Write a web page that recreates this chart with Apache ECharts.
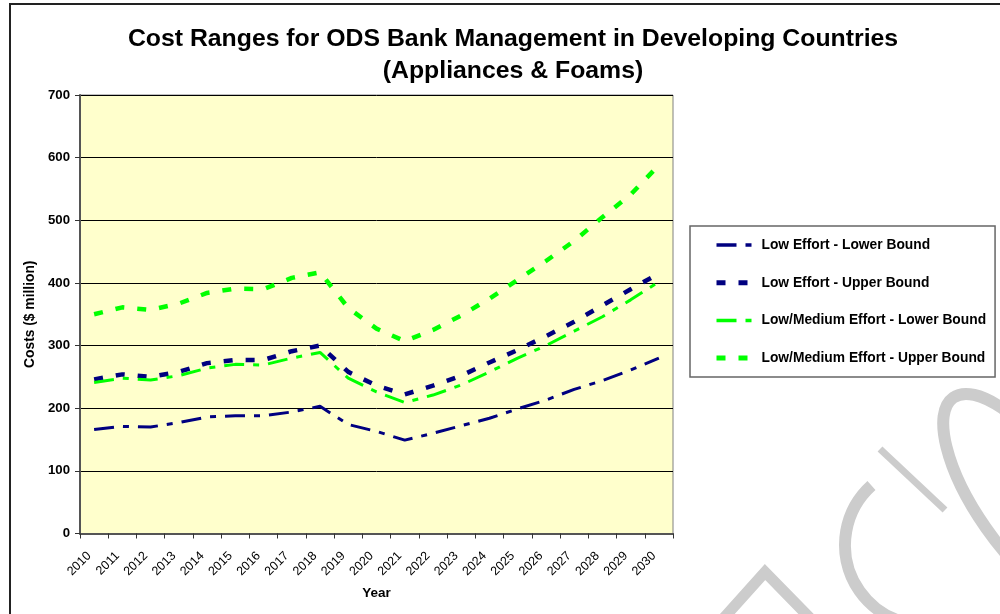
<!DOCTYPE html>
<html>
<head>
<meta charset="utf-8">
<script src="https://cdn.jsdelivr.net/npm/echarts@6/dist/echarts.min.js"></script>
<style>
html,body{margin:0;padding:0;background:#fff;}
#chart{width:1000px;height:614px;}
</style>
</head>
<body>
<div id="chart"></div>
<script>
const years = ['2010','2011','2012','2013','2014','2015','2016','2017','2018','2019','2020','2021','2022','2023','2024','2025','2026','2027','2028','2029','2030'];
const lowLower = [166,171,170,177,186,188,188,194,203,174,163,149,160,172,184,199,213,230,244,261,280];
const lowUpper = [246,254,250,258,272,277,277,291,300,258,236,222,236,252,273,293,315,338,364,390,415];
const medLower = [241,248,245,252,264,270,269,280,289,248,226,209,221,237,258,280,300,323,346,373,402];
const medUpper = [350,361,357,367,384,391,390,408,417,360,327,307,325,348,375,405,435,467,505,541,588];
const seriesNames = ['Low Effort - Lower Bound','Low Effort - Upper Bound','Low/Medium Effort - Lower Bound','Low/Medium Effort - Upper Bound'];
const yTicks = [0,100,200,300,400,500,600,700];

const navy = '#000080', green = '#00FF00';
const dashDot = [20,9,6,9], dashed = [9,13];
const lowerW = 3, upperW = 4.5;
function mk(name, data, color, dash, width){
  return {name:name, type:'line', data:data, symbol:'none', smooth:false,
    lineStyle:{color:color, width:width, type:dash, cap:'butt'}, itemStyle:{color:color}};
}
const chart = echarts.init(document.getElementById('chart'));
const ff = '"Liberation Sans", Arial, sans-serif';
const wm = '#cccccc';
chart.setOption({
  animation:false,
  textStyle:{fontFamily:ff},
  title:{text:'Cost Ranges for ODS Bank Management in Developing Countries\n(Appliances & Foams)',
    left:508, top:18, textAlign:'center',
    textStyle:{fontSize:24.8, fontWeight:'bold', color:'#000', lineHeight:32, fontFamily:ff}},
  legend:{orient:'vertical', left:690, top:226, padding:[12,9,12,24], itemGap:23.7,
    itemWidth:36, itemHeight:14, borderColor:'#666', borderWidth:1.5, backgroundColor:'#fff',
    itemStyle:{opacity:0},
    textStyle:{fontSize:13.8, lineHeight:14, fontWeight:'bold', color:'#000', fontFamily:ff, padding:[0,0,0,4]},
    data:seriesNames.map((n,i)=>({name:n, lineStyle:{width: i%2 ? 5 : 3.5}}))},
  grid:{left:80, right:327, top:95, bottom:80.5, show:true, backgroundColor:'#FFFFCC', borderColor:'#808080', borderWidth:1},
  xAxis:{type:'category', data:years, boundaryGap:true,
    name:'Year', nameLocation:'middle', nameGap:53,
    nameTextStyle:{fontSize:13.5, fontWeight:'bold', color:'#000', fontFamily:ff},
    axisLine:{lineStyle:{color:'#555', width:2}},
    axisTick:{show:true, alignWithLabel:false, length:5, lineStyle:{color:'#333'}},
    axisLabel:{rotate:45, fontSize:12.5, color:'#000', margin:15.5, padding:[0,7,0,0], interval:0, fontFamily:ff},
    splitLine:{show:false}},
  yAxis:{type:'value', min:yTicks[0], max:yTicks[yTicks.length-1], interval:100,
    name:'Costs ($ million)', nameLocation:'middle', nameGap:39,
    nameTextStyle:{fontSize:13.8, fontWeight:'bold', color:'#000', fontFamily:ff},
    axisLine:{show:true, lineStyle:{color:'#555', width:2}},
    axisTick:{show:true, length:5, lineStyle:{color:'#333'}},
    axisLabel:{fontSize:13.2, fontWeight:'bold', color:'#000', margin:10, fontFamily:ff},
    splitLine:{show:true, lineStyle:{color:'#000', width:1}}},
  graphic:[
    {type:'rect', z:-10, silent:true, shape:{x:10, y:4, width:1000, height:700}, style:{fill:'none', stroke:'#222', lineWidth:2}},
    {type:'arc', z:-5, silent:true, shape:{cx:925, cy:545, r:80, startAngle:100*Math.PI/180, endAngle:228*Math.PI/180, clockwise:true}, style:{fill:'none', stroke:wm, lineWidth:12}},
    {type:'line', z:-5, silent:true, shape:{x1:880, y1:449, x2:945, y2:510}, style:{stroke:wm, lineWidth:7}},
    {type:'ellipse', z:-5, silent:true, x:1025, y:500, rotation:-55*Math.PI/180, shape:{cx:0, cy:0, rx:125, ry:48}, style:{fill:'none', stroke:wm, lineWidth:12}},
    {type:'polyline', z:-5, silent:true, shape:{points:[[722,620],[765,572],[810,618]]}, style:{fill:'none', stroke:wm, lineWidth:11}}
  ],
  series:[
    mk(seriesNames[0], lowLower, navy, dashDot, lowerW),
    mk(seriesNames[1], lowUpper, navy, dashed, upperW),
    mk(seriesNames[2], medLower, green, dashDot, lowerW),
    mk(seriesNames[3], medUpper, green, dashed, upperW)
  ]
});
</script>
</body>
</html>
